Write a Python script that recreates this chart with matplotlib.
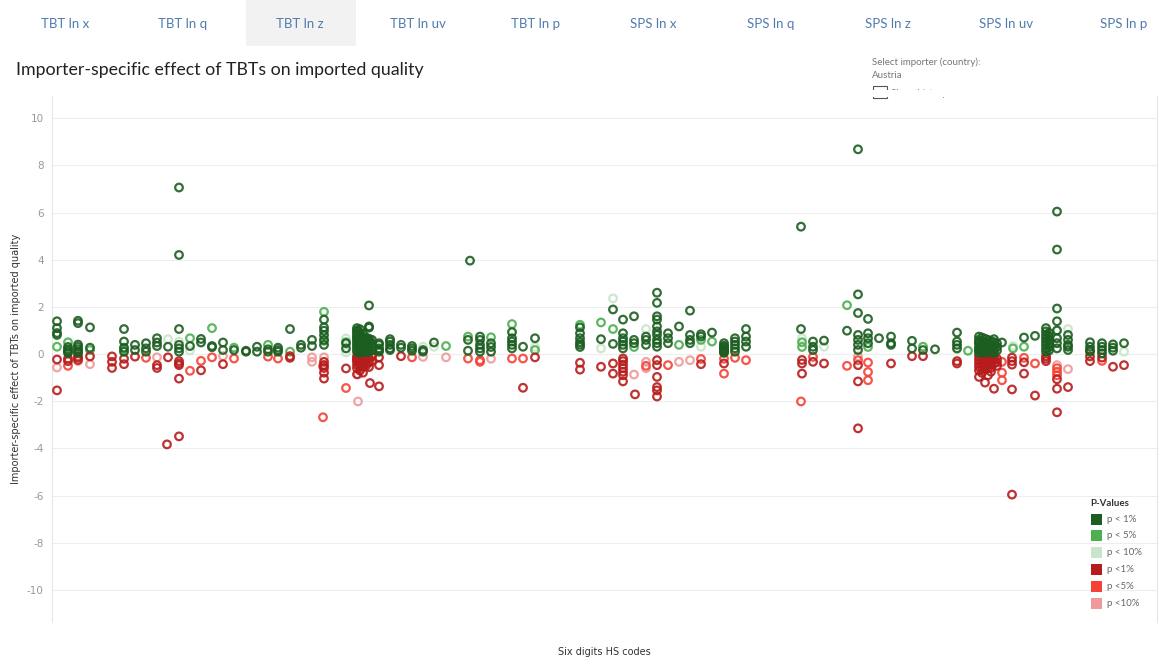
import matplotlib
matplotlib.use("Agg")
import matplotlib.pyplot as plt
from matplotlib.patches import Rectangle

W, H = 1176, 660

# HS-code order position -> effect estimates, one list per p-value class
POS_1 = [
    (5, [1.39, 1.1, 0.89, 0.81]), (16, [0.3, 0.2, 0.12, 0.05]),
    (26, [1.41, 1.31, 0.4, 0.3, 0.2, 0.1, 0.05]), (38, [1.13, 0.27]),
    (72, [1.06, 0.53, 0.27, 0.1]), (83, [0.39, 0.17]), (94, [0.46, 0.24, 0.1]),
    (105, [0.67, 0.49, 0.34]), (116, [0.31]), (127, [7.06, 4.2, 1.06, 0.39, 0.24, 0.1]),
    (138, [0.34]), (149, [0.64, 0.49]), (160, [0.34, 0.29]), (171, [0.49, 0.17]),
    (182, [0.17]), (194, [0.14, 0.1]), (205, [0.31, 0.1]), (216, [0.2, 0.1]),
    (226, [0.27, 0.17, 0.1]), (238, [1.06]), (249, [0.39, 0.27]), (260, [0.6, 0.34]),
    (272, [1.46, 1.13, 0.99, 0.8, 0.6, 0.39]), (294, [0.46, 0.24]),
    (305, [1.1, 1.0, 0.95, 0.85, 0.75, 0.68, 0.6, 0.5, 0.4, 0.3, 0.2, 0.1]),
    (308, [1.05, 0.9, 0.8, 0.7, 0.55, 0.45, 0.35, 0.25, 0.15, 0.05]),
    (311, [0.85, 0.65, 0.5, 0.4, 0.25, 0.12]),
    (314, [0.7, 0.6, 0.45, 0.3, 0.18, 0.08]),
    (317, [2.06, 1.17, 1.12, 0.65, 0.55, 0.45, 0.3, 0.2, 0.1]),
    (320, [0.6, 0.45, 0.3, 0.15]),
    (327, [0.46, 0.39, 0.24, 0.17, 0.1]), (338, [0.63, 0.53, 0.39, 0.24, 0.17]),
    (349, [0.39, 0.27]), (360, [0.34, 0.24, 0.14]), (371, [0.17, 0.1]), (382, [0.49]),
    (416, [0.6, 0.14]), (418, [3.96]), (428, [0.74, 0.6, 0.39, 0.24, 0.1]),
    (439, [0.46, 0.3, 0.1]), (460, [0.93, 0.67, 0.53, 0.39, 0.24]), (471, [0.31]),
    (483, [0.67]), (528, [1.13, 0.88, 0.67, 0.5, 0.4, 0.3]), (549, [0.63]),
    (561, [1.89, 0.43]), (571, [1.46, 0.88, 0.67, 0.53, 0.39, 0.24]),
    (582, [1.6, 0.6, 0.46]), (594, [0.74, 0.6, 0.39]),
    (605, [2.6, 2.17, 1.6, 1.46, 1.17, 0.96, 0.81, 0.6, 0.46, 0.31]),
    (616, [0.88, 0.67, 0.46]), (627, [1.17]), (638, [1.84, 0.81, 0.6, 0.46]),
    (649, [0.84, 0.74]), (660, [0.91]),
    (672, [0.46, 0.35, 0.25, 0.15, 0.05, 0.3, 0.2, 0.1]),
    (683, [0.67, 0.53, 0.39, 0.24, 0.1]), (694, [1.06, 0.74, 0.53, 0.31]),
    (749, [5.4, 1.06]), (761, [0.53, 0.31, 0.17]), (772, [0.57]), (795, [0.99]),
    (806, [8.68, 2.53, 1.74, 0.81, 0.6, 0.39, 0.17]), (816, [1.49, 0.88, 0.67, 0.46]),
    (827, [0.67]), (839, [0.74, 0.46, 0.39]), (860, [0.56, 0.24]), (871, [0.17]),
    (883, [0.2]), (905, [0.91, 0.53, 0.39, 0.24]),
    (927, [0.74, 0.6, 0.5, 0.45, 0.3, 0.2, 0.15, 0.05]),
    (930, [0.7, 0.55, 0.4, 0.25, 0.1]),
    (933, [0.65, 0.5, 0.35, 0.2, 0.05]), (936, [0.6, 0.45, 0.3, 0.15]),
    (939, [0.55, 0.4, 0.25, 0.1]), (942, [0.63, 0.5, 0.35, 0.2, 0.05]),
    (945, [0.45, 0.3, 0.15]), (950, [0.49]),
    (972, [0.7]), (983, [0.77]),
    (994, [1.1, 0.96, 0.81, 0.67, 0.53, 0.39, 0.24, 0.1]), (997, [0.9, 0.75, 0.6, 0.45, 0.3, 0.15]),
    (1005, [6.04, 4.43, 1.93, 1.39, 1.0, 0.67, 0.46, 0.24]),
    (1016, [0.81, 0.6, 0.39, 0.31, 0.17]), (1038, [0.5, 0.31, 0.17, 0.1]),
    (1050, [0.46, 0.31, 0.17, 0.03]), (1061, [0.41, 0.27, 0.14]), (1072, [0.46]),
]
POS_5 = [
    (5, [0.31]), (16, [0.5]), (38, [0.17]), (72, [0.2]), (138, [0.67]), (160, [1.1]),
    (182, [0.27]), (216, [0.39]), (238, [0.1]), (272, [1.79, 0.56]), (294, [0.5]),
    (394, [0.34]), (416, [0.74]), (439, [0.71]), (460, [1.27]), (483, [0.17]),
    (528, [1.24]), (549, [1.34]), (561, [1.06]), (582, [0.3]), (627, [0.39]),
    (649, [0.6]), (660, [0.53]), (750, [0.5, 0.3]), (795, [2.07]), (816, [0.3]),
    (871, [0.31]), (916, [0.14]), (961, [0.24]), (972, [0.31]),
]
POS_10 = [
    (72, [0.12]), (116, [0.63]), (127, [0.53]), (138, [0.15]), (294, [0.66, 0.07]),
    (371, [0.31]), (382, [0.31]), (483, [0.3]), (549, [0.24]), (561, [2.36]),
    (594, [1.06]), (649, [0.31]), (750, [0.67]), (772, [0.31]), (905, [0.2]),
    (961, [0.34]), (1005, [1.0]), (1016, [1.06]), (1072, [0.1]),
]
NEG_1 = [
    (5, [-0.23, -1.54]), (16, [-0.2, -0.3]), (26, [-0.15, -0.25]), (38, [-0.1]),
    (60, [-0.1, -0.33, -0.59]), (72, [-0.2, -0.43]), (83, [-0.11]),
    (105, [-0.47, -0.59]), (116, [-0.14]), (115, [-3.83]),
    (127, [-0.3, -0.4, -0.47, -1.04, -3.49]), (149, [-0.69]), (171, [-0.43]),
    (238, [-0.09, -0.16]), (272, [-0.33, -0.47, -0.59, -0.79, -1.04]), (294, [-0.61]),
    (305, [-0.1, -0.2, -0.3, -0.45, -0.6, -0.86]),
    (308, [-0.15, -0.28, -0.4, -0.52, -0.7]), (311, [-0.15, -0.35, -0.55, -0.79]),
    (314, [-0.1, -0.25, -0.4, -0.5]), (317, [-0.2, -0.35, -0.55]), (318, [-1.23]),
    (320, [-0.1, -0.3]), (327, [-0.14, -0.47, -1.37]), (349, [-0.09]), (471, [-1.43]),
    (483, [-0.14]), (528, [-0.37, -0.66]), (549, [-0.54]), (561, [-0.4, -0.83]),
    (571, [-0.19, -0.3, -0.45, -0.6, -0.75, -0.9, -1.16]), (583, [-1.71]),
    (605, [-0.26, -0.47, -0.97, -1.4, -1.54, -1.8]), (649, [-0.43]), (672, [-0.4]),
    (750, [-0.25, -0.4, -0.83]), (761, [-0.33]), (772, [-0.4]),
    (806, [-0.47, -1.16, -3.15]), (839, [-0.4]), (860, [-0.09]), (871, [-0.09]),
    (905, [-0.3, -0.4]), (927, [-0.1, -0.25, -0.4, -0.55, -0.7, -0.97]),
    (930, [-0.15, -0.3, -0.45, -0.6, -0.8]),
    (933, [-0.15, -0.3, -0.5, -0.65, -1.21]), (936, [-0.1, -0.2, -0.35, -0.6, -0.9]),
    (939, [-0.15, -0.3, -0.45, -0.59, -0.75]), (942, [-0.1, -0.25, -0.4, -1.47]),
    (945, [-0.2, -0.35, -0.5]), (960, [-5.96, -1.5, -0.15, -0.3, -0.45]),
    (972, [-0.35, -0.83]), (983, [-1.76]), (994, [-0.1, -0.2, -0.3]),
    (1005, [-1.07, -1.47, -2.47]), (1016, [-1.4]), (1038, [-0.1, -0.3]),
    (1050, [-0.15]), (1061, [-0.54]), (1072, [-0.47]),
]
NEG_5 = [
    (16, [-0.5]), (26, [-0.1]), (94, [-0.16]), (138, [-0.71]), (149, [-0.29]),
    (160, [-0.14]), (182, [-0.19]), (216, [-0.11]), (226, [-0.19]), (271, [-0.51, -2.68]),
    (294, [-1.44]), (305, [-0.25]), (360, [-0.14]), (416, [-0.19]), (428, [-0.26, -0.33]),
    (460, [-0.19]), (471, [-0.19]), (594, [-0.5]), (616, [-0.47]), (649, [-0.21]),
    (672, [-0.2, -0.83]), (683, [-0.16]), (694, [-0.26]), (749, [-2.01]), (761, [-0.12]),
    (795, [-0.5]), (806, [-0.26]), (816, [-0.36, -0.76, -1.11]),
    (950, [-0.33, -0.79, -1.11]), (972, [-0.16]), (983, [-0.4]),
    (1005, [-0.6, -0.75, -0.9]), (1050, [-0.29]),
]
NEG_10 = [
    (5, [-0.57]), (26, [-0.3]), (38, [-0.43]), (105, [-0.14]), (171, [-0.09]),
    (260, [-0.14, -0.33]), (272, [-0.14]), (306, [-0.86, -2.01]), (371, [-0.12]),
    (394, [-0.14]), (439, [-0.2]), (582, [-0.87]), (594, [-0.33, -0.6]),
    (627, [-0.33]), (638, [-0.26]), (806, [-0.1]), (1005, [-0.47]), (1016, [-0.64]),
]

CLASSES = [
    (POS_10, "#c8e6c9"),
    (NEG_10, "#ef9a9a"),
    (POS_5, "#4caf50"),
    (NEG_5, "#f44336"),
    (NEG_1, "#b71c1c"),
    (POS_1, "#1b5e20"),
]
LEGEND_ORDER = [
    ("#1b5e20", "p < 1%"), ("#4caf50", "p < 5%"), ("#c8e6c9", "p < 10%"),
    ("#b71c1c", "p <1%"), ("#f44336", "p <5%"), ("#ef9a9a", "p <10%"),
]
TABS = ["TBT ln x", "TBT ln q", "TBT ln z", "TBT ln uv", "TBT ln p",
        "SPS ln x", "SPS ln q", "SPS ln z", "SPS ln uv", "SPS ln p"]
YTICKS = [-10, -8, -6, -4, -2, 0, 2, 4, 6, 8, 10]

plt.rcParams["axes.unicode_minus"] = False


def fx(px):
    return px / W


def fy(py):
    return 1 - py / H


def expand(groups):
    xs, ys = [], []
    for x, vals in groups:
        for v in vals:
            xs.append(x)
            ys.append(v)
    return xs, ys


fig = plt.figure(figsize=(W / 100, H / 100), dpi=100)
ax = fig.add_axes([fx(52), fy(622), fx(1157) - fx(52), fy(96) - fy(622)])

for groups, color in CLASSES:
    xs, ys = expand(groups)
    ax.scatter(xs, ys, s=30, facecolors="none", edgecolors=color,
               linewidths=1.6, alpha=0.9, zorder=3)

ax.set_xlim(0, 1105)
ax.set_ylim(-11.36, 10.94)
ax.set_yticks(YTICKS)
ax.set_xticks([])
ax.tick_params(axis="y", length=0, labelsize=7.5, labelcolor="#999999", pad=6)
ax.grid(axis="y", color="#eeeeee", linewidth=0.8, zorder=0)
ax.axhline(0, color="#bbbbbb", linestyle=(0, (1, 2)), linewidth=0.8, zorder=1)
for side in ["top", "bottom"]:
    ax.spines[side].set_visible(False)
for side in ["left", "right"]:
    ax.spines[side].set_color("#e6e6e6")
ax.set_ylabel("Importer-specific effect of TBTs on imported quality",
              fontsize=7, color="#333333", labelpad=4)
ax.set_xlabel("Six digits HS codes", fontsize=7, color="#333333", labelpad=18)

# tab strip
fig.patches.append(Rectangle((fx(246), fy(46)), fx(110), fy(0) - fy(46),
                             transform=fig.transFigure, facecolor="#f2f2f2",
                             edgecolor="none"))
for i, t in enumerate(TABS):
    fig.text(fx(65 + i * 117.6), fy(24), t, ha="center", va="center",
             fontsize=9.5, color="#4f7cac", family="Lato")

fig.text(fx(16), fy(70), "Importer-specific effect of TBTs on imported quality",
         fontsize=12.8, color="#222222", va="center", family="Lato")

fig.text(fx(872), fy(62), "Select importer (country):", fontsize=7,
         color="#777777", va="center", family="Lato")
fig.text(fx(872), fy(76), "Austria", fontsize=7, color="#777777", va="center",
         family="Lato")
fig.patches.append(Rectangle((fx(873), fy(98)), fx(14), fy(86) - fy(98),
                             transform=fig.transFigure, facecolor="none",
                             edgecolor="#555555", linewidth=0.8))
fig.text(fx(891), fy(93), "Show history", fontsize=7, color="#777777",
         va="center", family="Lato")
# the filter panel is cut off just above the plot area
fig.add_artist(Rectangle((fx(860), fy(97)), fx(200), fy(90.5) - fy(97),
                         transform=fig.transFigure, facecolor="white",
                         edgecolor="none", zorder=20))

# legend
fig.text(fx(1090), fy(504), "P-Values", fontsize=7, color="#333333",
         fontweight="bold", va="center", family="Lato")
for i, (c, lab) in enumerate(LEGEND_ORDER):
    yc = 519 + i * 16.8
    fig.patches.append(Rectangle((fx(1091), fy(yc + 5.5)), fx(11), fy(yc - 5.5) - fy(yc + 5.5),
                                 transform=fig.transFigure, facecolor=c, edgecolor="none"))
    fig.text(fx(1107), fy(yc), lab, fontsize=7, color="#666666", va="center",
             family="Lato")

fig.savefig("out.png", dpi=100)
